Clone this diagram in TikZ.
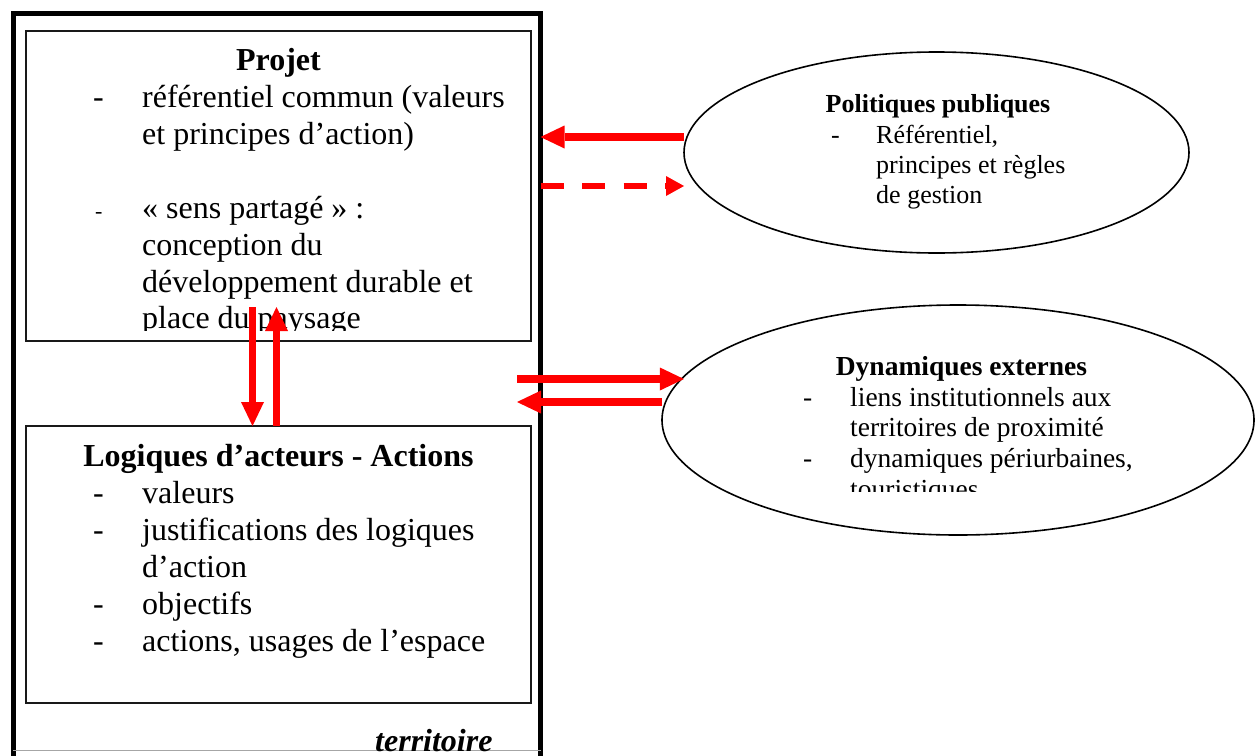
\documentclass[tikz,border=0pt]{standalone}
\usepackage{fontspec}
\setmainfont{Liberation Serif}
\usetikzlibrary{shapes.geometric,arrows.meta}
\begin{document}
\begin{tikzpicture}[x=1pt,y=-1pt,
  framebox/.style={draw=black, line width=5pt, outer sep=0pt, inner sep=0pt, anchor=north west},
  box/.style={draw=black!90, line width=1.8pt, outer sep=0pt, inner sep=0pt, anchor=north west},
  oval/.style={ellipse, draw=black, line width=1.6pt, inner sep=0pt, outer sep=0pt},
  big/.style={inner sep=0pt, anchor=base west, font=\fontsize{32}{37}\selectfont},
  bigtitle/.style={inner sep=0pt, anchor=base, font=\fontsize{32}{37}\selectfont\bfseries},
  pptext/.style={inner sep=0pt, anchor=base west, font=\fontsize{26}{30}\selectfont},
  pptitle/.style={inner sep=0pt, anchor=base, font=\fontsize{26}{30}\selectfont\bfseries},
  dytext/.style={inner sep=0pt, anchor=base west, font=\fontsize{27.5}{31}\selectfont},
  dytitle/.style={inner sep=0pt, anchor=base, font=\fontsize{27.5}{31}\selectfont\bfseries},
  redarrow/.style={draw=red, line width=7.5pt, -{Triangle[length=24pt,width=23pt,line width=0pt]}},
  dasharrow/.style={draw=red, line width=6pt, dash pattern=on 23pt off 18.5pt, -{Triangle[length=18pt,width=20pt,line width=0pt]}}
]
\useasboundingbox (0,0) rectangle (1255,755);
\fill[white] (0,0) rectangle (1255,755);

% frame and boxes
\node[framebox, minimum width=527.5pt, minimum height=800pt] (terr) at (13,13) {};
\node[box, minimum width=505pt, minimum height=310pt] (projet) at (26,31) {};
\node[box, minimum width=505pt, minimum height=277pt] (logiques) at (26,426) {};
\draw[black!35, line width=1pt] (terr.west |- 0,750) -- (terr.east |- 0,750);

% ellipses
\node[oval, minimum width=505pt, minimum height=201pt] (pp) at (936.5,152.5) {};
\node[oval, minimum width=592pt, minimum height=230pt] (dyn) at (958,420) {};

% Projet text
\begin{scope}
\clip (26,31) rectangle (531,330);
\node[bigtitle] (pt0) at (278.5,70) {Projet};
\node[big] (pd1) at (93,107) {-};
\node[big] (pt1) at (142,107) {référentiel commun (valeurs};
\node[big] (pt2) at (142,144) {et principes d’action)};
\node[inner sep=0pt, anchor=base west, font=\fontsize{22}{26}\selectfont] (pd2) at (95,218) {-};
\node[big] (pt3) at (142,218) {« sens partagé » :};
\node[big] (pt4) at (142,255) {conception du};
\node[big] (pt5) at (142,292) {développement durable et};
\node[big] (pt6) at (142,328) {place du paysage};
\end{scope}

% Logiques text
\node[bigtitle] (lt0) at (278.5,466) {Logiques d’acteurs - Actions};
\node[big] (ld1) at (93,503) {-};
\node[big] (lt1) at (142,503) {valeurs};
\node[big] (ld2) at (93,540) {-};
\node[big] (lt2) at (142,540) {justifications des logiques};
\node[big] (lt3) at (142,577) {d’action};
\node[big] (ld3) at (93,614) {-};
\node[big] (lt4) at (142,614) {objectifs};
\node[big] (ld4) at (93,651) {-};
\node[big] (lt5) at (142,651) {actions, usages de l’espace};

\node[inner sep=0pt, anchor=base west, font=\fontsize{32}{37}\selectfont\bfseries\itshape] (tt) at (375,751) {territoire};

% Politiques text
\node[pptitle] (ppt0) at (938,112) {Politiques publiques};
\node[pptext] (ppd1) at (831,143) {-};
\node[pptext] (ppt1) at (876,143) {Référentiel,};
\node[pptext] (ppt2) at (876,173) {principes et règles};
\node[pptext] (ppt3) at (876,203) {de gestion};

% Dynamiques text
\begin{scope}
\clip (650,300) rectangle (1255,491);
\node[dytitle] (dyt0) at (961.5,375) {Dynamiques externes};
\node[dytext] (dyd1) at (803,406) {-};
\node[dytext] (dyt1) at (850,406) {liens institutionnels aux};
\node[dytext] (dyt2) at (850,436) {territoires de proximité};
\node[dytext] (dyd2) at (803,467) {-};
\node[dytext] (dyt3) at (850,467) {dynamiques périurbaines,};
\node[dytext] (dyt4) at (850,498) {touristiques};
\end{scope}

% arrows
\coordinate (downstart) at (252.5,307);
\coordinate (uptip) at (276.5,307);
\coordinate (dynstart) at (517,379);
\coordinate (dynend) at (517,402);
\draw[redarrow] (downstart) -- (logiques.north -| downstart);
\draw[redarrow] (logiques.north -| uptip) -- (uptip);
\draw[redarrow] (pp.west |- 0,137) -- (terr.east |- 0,137);
\draw[dasharrow] (terr.east |- 0,186) -- (pp.west |- 0,186);
\draw[redarrow] (dynstart) -- (dyn.171.6 |- dynstart);
\draw[redarrow] (dyn.west |- 0,402) -- (dynend);
\end{tikzpicture}
\end{document}
